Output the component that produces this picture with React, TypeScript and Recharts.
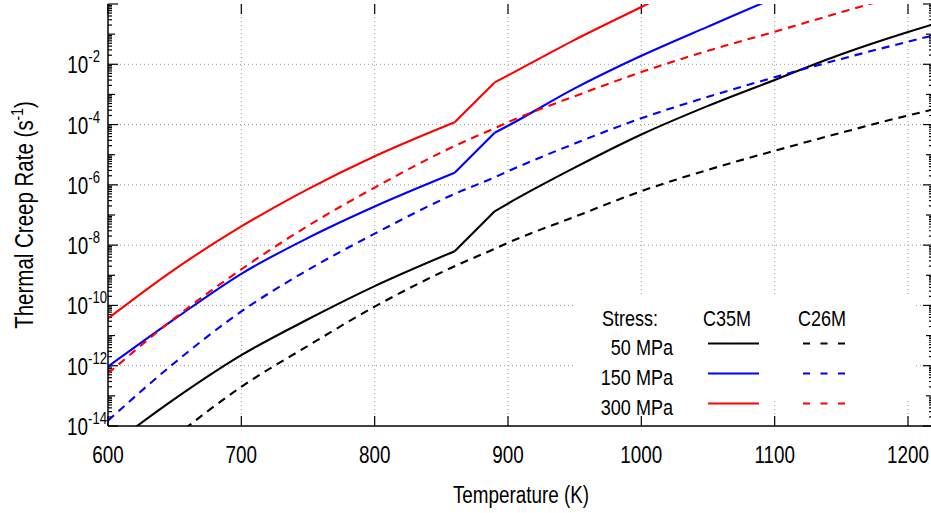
import React from "react";
import { Line, LineChart, ReferenceLine, XAxis, YAxis } from "recharts";

// temperature (K)
const temps = [600, 650, 700, 750, 800, 860, 890, 900, 950, 1000, 1050, 1100, 1150, 1200, 1220];

// creep rate (1/s), C35M
const c35m50 = [1.91e-15, 7.94e-14, 2.24e-12, 3.47e-11, 4.37e-10, 6.31e-9, 1.32e-7, 2.4e-7, 3.72e-6, 4.68e-5, 4.17e-4, 3.02e-3, 2.14e-2, 1.17e-1, 2.19e-1];
const c35m150 = [9.33e-13, 3.55e-11, 1.12e-9, 1.74e-8, 1.91e-7, 2.51e-6, 5.37e-5, 9.12e-5, 1.58e-3, 1.91e-2, 1.78e-1, 1.58, 12.6, 100, 224];
const c35m300 = [3.72e-11, 1.58e-9, 4.17e-8, 7.24e-7, 8.91e-6, 1.2e-4, 2.51e-3, 4.27e-3, 6.46e-2, 0.794, 10, 112, 1000, 7940, 17800];

// creep rate (1/s), C26M
const c26m50 = [7.94e-17, 4.47e-15, 2.0e-13, 4.57e-12, 9.12e-11, 2.0e-9, 7.59e-9, 1.2e-8, 8.71e-8, 6.17e-7, 3.16e-6, 1.35e-5, 5.37e-5, 2.0e-4, 3.24e-4];
const c26m150 = [1.51e-14, 1.26e-12, 6.31e-11, 1.51e-9, 2.4e-8, 5.01e-7, 1.78e-6, 2.82e-6, 2.34e-5, 1.62e-4, 8.32e-4, 3.72e-3, 1.51e-2, 5.62e-2, 9.33e-2];
const c26m300 = [5.5e-13, 3.8e-11, 1.58e-9, 4.37e-8, 8.13e-7, 1.95e-5, 7.59e-5, 1.2e-4, 8.71e-4, 5.5e-3, 2.82e-2, 1.2e-1, 5.37e-1, 2.24, 3.8];

// C35M curves break at 860 K and 890 K
const kinkLo = 5;
const kinkHi = 6;

const xTicks = [600, 700, 800, 900, 1000, 1100, 1200];
const xGrid = [700, 800, 900, 1000, 1100, 1200];
const yGrid = [1e-12, 1e-10, 1e-8, 1e-6, 1e-4, 1e-2];
const yLabelTicks = [1e-14, 1e-12, 1e-10, 1e-8, 1e-6, 1e-4, 1e-2];
const stressLabels = ["50 MPa", "150 MPa", "300 MPa"];
const stressColors = ["#000000", "#0000ff", "#ff0000"];

const X_MIN = 600;
const X_MAX = 1218.75;
const Y_MIN = 1e-14;
const Y_MAX = 1;

const seg = (arr: number[], i: number, lo: number, hi: number) =>
  i >= lo && i <= hi ? arr[i] : null;

const c35m = { c35m50, c35m150, c35m300 } as Record<string, number[]>;

const data = temps.map((T, i) => {
  const row: Record<string, number | null> = {
    T,
    c26m50: c26m50[i],
    c26m150: c26m150[i],
    c26m300: c26m300[i],
  };
  Object.entries(c35m).forEach(([k, arr]) => {
    row[`${k}_a`] = seg(arr, i, 0, kinkLo);
    row[`${k}_b`] = seg(arr, i, kinkLo, kinkHi);
    row[`${k}_c`] = seg(arr, i, kinkHi, temps.length - 1);
  });
  return row;
});

// inward tick marks (gnuplot style), expressed in data units
const PX_PER_K = 825 / (X_MAX - X_MIN);
const PX_PER_DECADE = 422 / 14;
const tickMarks: { key: string; segment: { x: number; y: number }[] }[] = [];
for (let d = -14; d <= 0; d++) {
  const subs = d < 0 ? [1, 2, 3, 4, 5, 6, 7, 8, 9] : [1];
  subs.forEach((m) => {
    const v = Number(`${m}e${d}`);
    const len = m === 1 ? (d % 2 === 0 ? 10 : 7) : 4;
    const dx = len / PX_PER_K;
    tickMarks.push({ key: `l${m}e${d}`, segment: [{ x: X_MIN, y: v }, { x: X_MIN + dx, y: v }] });
    tickMarks.push({ key: `r${m}e${d}`, segment: [{ x: X_MAX - dx, y: v }, { x: X_MAX, y: v }] });
  });
}
const yUp = Math.pow(10, 10 / PX_PER_DECADE);
xTicks.forEach((t) => {
  tickMarks.push({ key: `b${t}`, segment: [{ x: t, y: Y_MIN }, { x: t, y: Y_MIN * yUp }] });
  tickMarks.push({ key: `t${t}`, segment: [{ x: t, y: Y_MAX / yUp }, { x: t, y: Y_MAX }] });
});

const FONT = "'Liberation Sans', Arial, sans-serif";
const SQ = 0.82; // condensed look
const DASH = "8 6";

// horizontally condensed text
const CText = ({ x, y, anchor = "start", size, rotate = 0, children }: any) => (
  <g transform={`translate(${x},${y}) rotate(${rotate}) scale(${SQ},1)`}>
    <text x={0} y={0} textAnchor={anchor} fontSize={size} fontFamily={FONT} fill="#000">
      {children}
    </text>
  </g>
);

const YTick = (props: any) => {
  const x = Number(props.x);
  const y = Number(props.y);
  const e = Math.round(Math.log10(props.payload.value));
  const exp = `${e}`;
  return (
    <CText x={x - (exp.length > 2 ? 1 : 8)} y={y + 9} anchor="end" size={23}>
      <tspan>10</tspan>
      <tspan dy={-11} fontSize={16}>
        {exp}
      </tspan>
    </CText>
  );
};

const XTick = (props: any) => (
  <CText x={Number(props.x)} y={Number(props.y) + 37} anchor="middle" size={23}>
    {props.payload.value}
  </CText>
);

const lines: { key: string; color: string; dash?: string; curve: "linear" | "monotone" }[] = [];
[
  ["c35m50", "#000000"],
  ["c35m150", "#0000ff"],
  ["c35m300", "#ff0000"],
].forEach(([k, color]) => {
  lines.push({ key: `${k}_a`, color, curve: "monotone" });
  lines.push({ key: `${k}_b`, color, curve: "linear" });
  lines.push({ key: `${k}_c`, color, curve: "monotone" });
});
lines.push({ key: "c26m50", color: "#000000", dash: DASH, curve: "monotone" });
lines.push({ key: "c26m150", color: "#0000ff", dash: DASH, curve: "monotone" });
lines.push({ key: "c26m300", color: "#ff0000", dash: DASH, curve: "monotone" });

const Overlay = () => (
  <svg
    width={931}
    height={513}
    style={{ position: "absolute", left: 0, top: 0, pointerEvents: "none" }}
  >
    <CText x={33} y={215} anchor="middle" size={25} rotate={-90}>
      Thermal Creep Rate (s
      <tspan dy={-10} fontSize={17}>
        -1
      </tspan>
      <tspan dy={10}>)</tspan>
    </CText>
    <CText x={521} y={503} anchor="middle" size={23}>
      Temperature (K)
    </CText>

    {/* key */}
    <rect x={574} y={296} width={340} height={103} fill="#fff" />
    <CText x={602} y={326} size={22}>
      Stress:
    </CText>
    <CText x={727} y={326} anchor="middle" size={22}>
      C35M
    </CText>
    <CText x={822} y={326} anchor="middle" size={22}>
      C26M
    </CText>
    {stressLabels.map((label, i) => {
      const cy = 343.5 + i * 30;
      return (
        <g key={label}>
          <CText x={673} y={cy + 11} anchor="end" size={22}>
            {label}
          </CText>
          <line x1={708} y1={cy} x2={759} y2={cy} stroke={stressColors[i]} strokeWidth={2.2} />
          <line
            x1={803}
            y1={cy}
            x2={845}
            y2={cy}
            stroke={stressColors[i]}
            strokeWidth={2.2}
            strokeDasharray="7 10.5"
          />
        </g>
      );
    })}
  </svg>
);

export default function App() {
  return (
    <div
      style={{
        position: "absolute",
        left: 0,
        top: 0,
        width: 931,
        height: 513,
        overflow: "hidden",
        background: "#fff",
      }}
    >
      <LineChart
        width={935}
        height={513}
        data={data}
        margin={{ top: 4, right: 2, bottom: 0, left: 0 }}
      >
        <XAxis
          dataKey="T"
          type="number"
          domain={[X_MIN, X_MAX]}
          allowDataOverflow
          ticks={xTicks}
          interval={0}
          height={87}
          tickSize={0}
          tickMargin={0}
          tickLine={false}
          axisLine={{ stroke: "#000", strokeWidth: 1.5 }}
          tick={(p: any) => <XTick {...p} />}
        />
        <XAxis
          xAxisId="top"
          orientation="top"
          dataKey="T"
          type="number"
          domain={[X_MIN, X_MAX]}
          allowDataOverflow
          height={0}
          tick={false}
          tickLine={false}
          axisLine={{ stroke: "#000", strokeWidth: 1.5 }}
        />
        <YAxis
          scale="log"
          type="number"
          domain={[Y_MIN, Y_MAX]}
          allowDataOverflow
          ticks={yLabelTicks}
          interval={0}
          width={108}
          tickSize={0}
          tickMargin={0}
          tickLine={false}
          axisLine={{ stroke: "#000", strokeWidth: 1.5 }}
          tick={(p: any) => <YTick {...p} />}
        />
        <YAxis
          yAxisId="right"
          orientation="right"
          scale="log"
          type="number"
          domain={[Y_MIN, Y_MAX]}
          allowDataOverflow
          width={0}
          tick={false}
          tickLine={false}
          axisLine={{ stroke: "#000", strokeWidth: 1.5 }}
        />
        {xGrid.map((v) => (
          <ReferenceLine key={`gx${v}`} x={v} stroke="#999" strokeDasharray="1 3" />
        ))}
        {yGrid.map((v) => (
          <ReferenceLine key={`gy${v}`} y={v} stroke="#999" strokeDasharray="1 3" />
        ))}
        {tickMarks.map((t) => (
          <ReferenceLine
            key={t.key}
            segment={t.segment}
            stroke="#000"
            strokeWidth={1.2}
            ifOverflow="visible"
          />
        ))}
        {lines.map((s) => (
          <Line
            key={s.key}
            dataKey={s.key}
            type={s.curve}
            stroke={s.color}
            strokeWidth={2.1}
            strokeDasharray={s.dash}
            dot={false}
            activeDot={false}
            connectNulls={false}
            isAnimationActive={false}
          />
        ))}
      </LineChart>
      <Overlay />
    </div>
  );
}
